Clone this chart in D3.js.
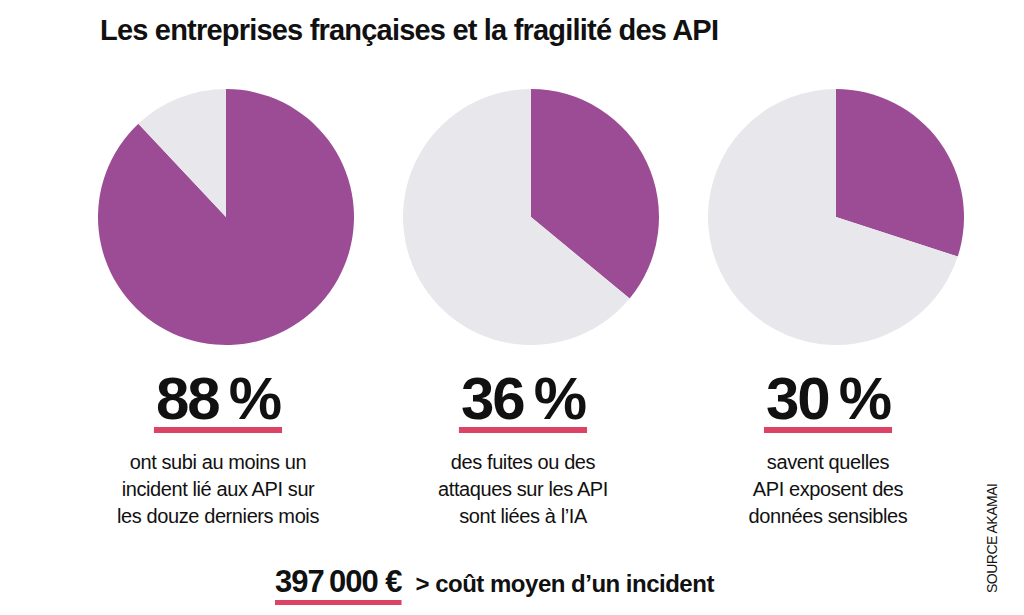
<!DOCTYPE html>
<html lang="fr">
<head>
<meta charset="UTF-8">
<script src="https://cdn.jsdelivr.net/npm/d3@7"></script>
<style>
  body { margin: 0; background: #fff; }
  text { font-family: "Liberation Sans", Arial, sans-serif; fill: #111; }
</style>
</head>
<body>
<div id="chart"></div>
<script>
const title = "Les entreprises françaises et la fragilité des API";
const values = [88, 36, 30];
const labels = ["88\u2009%", "36\u2009%", "30\u2009%"];
const captions = [
  ["ont subi au moins un", "incident lié aux API sur", "les douze derniers mois"],
  ["des fuites ou des", "attaques sur les API", "sont liées à l\u2019IA"],
  ["savent quelles", "API exposent des", "données sensibles"]
];
const costLabel = "397\u2009000\u00a0€";
const costText = "> coût moyen d\u2019un incident";
const source = "SOURCE AKAMAI";

const width = 1024, height = 615;
const purple = "#9b4c95", grey = "#e8e8ec", red = "#dc4466";

const svg = d3.select("#chart").append("svg")
  .attr("width", width).attr("height", height);

svg.append("text").attr("x", 100).attr("y", 40)
  .attr("font-size", 29).attr("font-weight", "bold")
  .attr("letter-spacing", -0.8).text(title);

const x = d3.scalePoint().domain(d3.range(values.length)).range([226, 836]);
const r = 128, cy = 217;
const pie = d3.pie().sort(null);
const arc = d3.arc().innerRadius(0).outerRadius(r);

values.forEach((v, i) => {
  const g = svg.append("g").attr("transform", `translate(${x(i)},${cy})`);
  g.selectAll("path").data(pie([v, 100 - v])).join("path")
    .attr("d", arc).attr("fill", (d, j) => j === 0 ? purple : grey);

  const cx = x(i) - 8;
  const t = svg.append("text").attr("x", cx).attr("y", 419)
    .attr("text-anchor", "middle").attr("font-size", 60)
    .attr("font-weight", "bold").attr("letter-spacing", -2).text(labels[i]);
  const w = t.node().getComputedTextLength();
  svg.append("rect").attr("x", cx - w / 2 - 2).attr("y", 427)
    .attr("width", w + 4).attr("height", 6).attr("fill", red);

  svg.append("text").attr("x", cx).attr("y", 469)
    .attr("text-anchor", "middle").attr("font-size", 20)
    .attr("letter-spacing", -0.4)
    .selectAll("tspan").data(captions[i]).join("tspan")
    .attr("x", cx).attr("dy", (d, j) => j === 0 ? 0 : 27).text(d => d);
});

const c = svg.append("text").attr("x", 275).attr("y", 592)
  .attr("font-size", 31).attr("font-weight", "bold")
  .attr("letter-spacing", -1).text(costLabel);
const cw = c.node().getComputedTextLength();
svg.append("rect").attr("x", 275).attr("y", 600)
  .attr("width", cw).attr("height", 5).attr("fill", red);
svg.append("text").attr("x", 275 + cw + 14).attr("y", 592)
  .attr("font-size", 24).attr("font-weight", "bold")
  .attr("letter-spacing", -0.5).text(costText);

svg.append("text").attr("transform", "translate(997,593) rotate(-90)")
  .attr("font-size", 14).attr("letter-spacing", -0.5).text(source);
</script>
</body>
</html>
